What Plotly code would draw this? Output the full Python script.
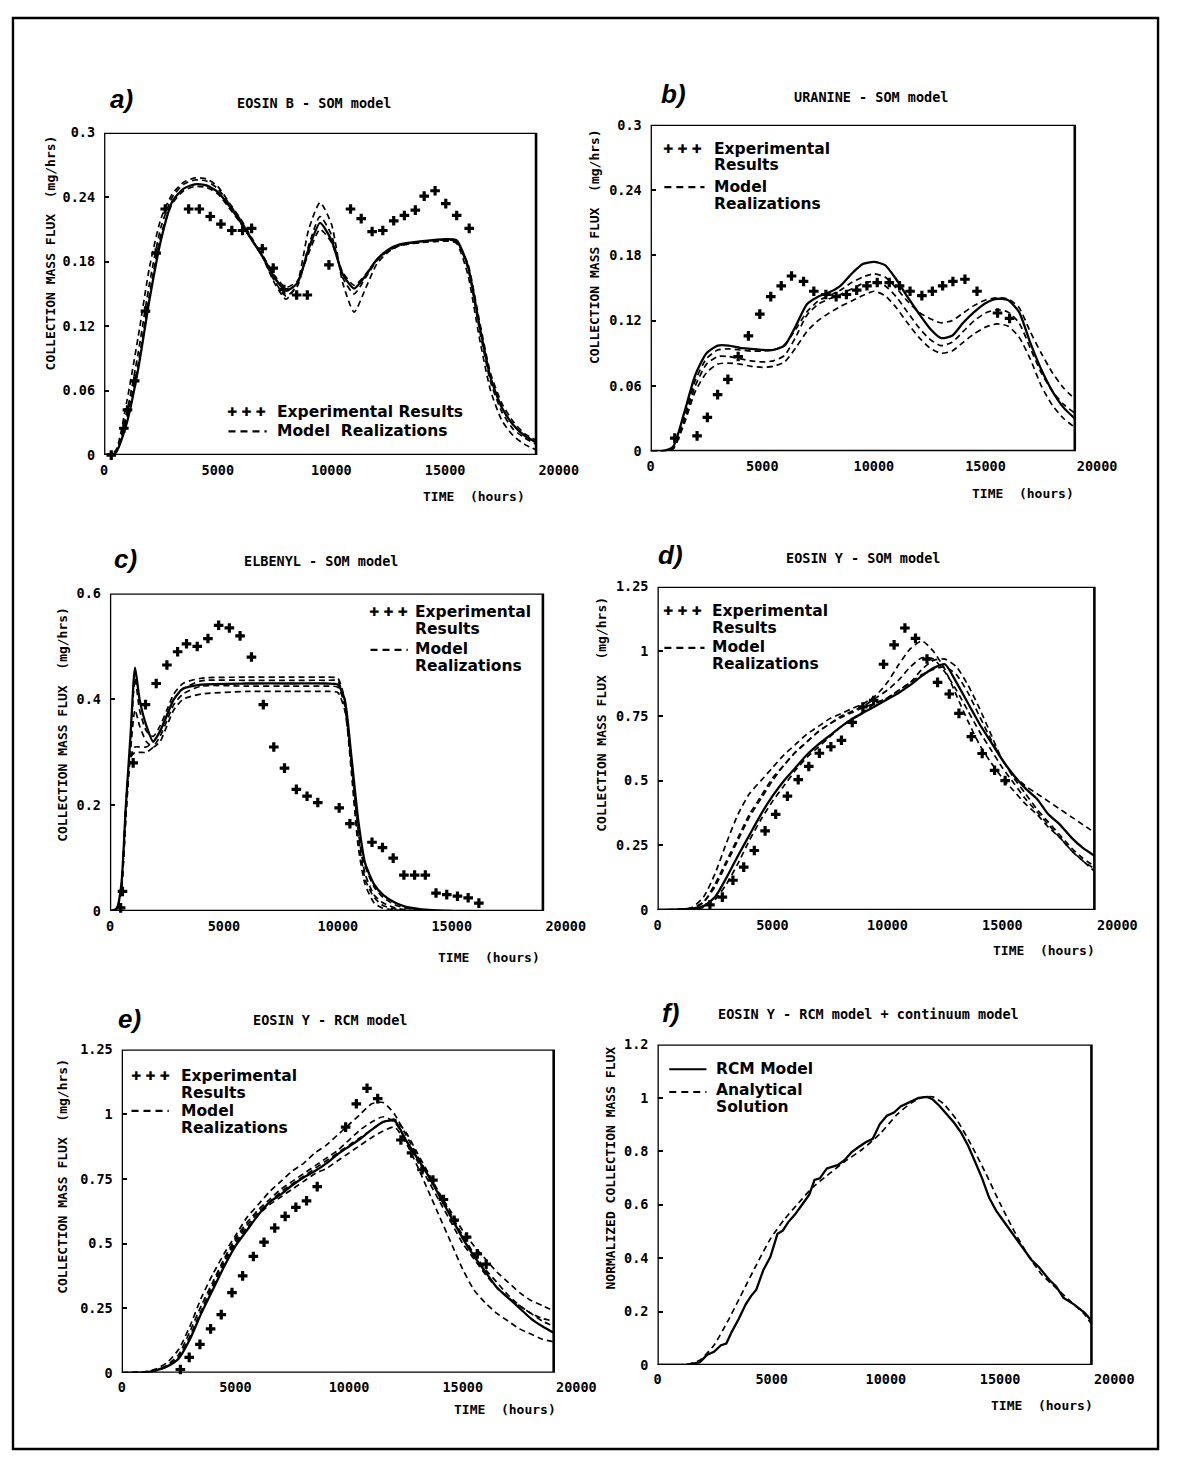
import plotly.graph_objects as go

# page geometry (browser body keeps an 8px margin)
PAGE_W, PAGE_H = 1188, 1466
OFF = 8
FW, FH = PAGE_W - 2 * OFF, PAGE_H - 2 * OFF

X_BOX_END = 19000
X_TICKS = [0, 5000, 10000, 15000, 20000]
X_TICK_TEXT = ["0", "5000", "10000", "15000", "20000"]

# ---------------- panel a : EOSIN B - SOM model ----------------
a_time = [0, 500, 1000, 1500, 2000, 2500, 3000, 3500, 4000, 4500, 5000, 5500, 6000, 6500,
          7000, 7500, 8000, 8500, 9000, 9500, 10000, 10500, 11000, 11500, 12000, 12500,
          13000, 14000, 15000, 15500, 16000, 16500, 17000, 17500, 18000, 18500, 19000]
a_model_solid = [0, 0.002, 0.03, 0.08, 0.145, 0.2, 0.236, 0.248, 0.252, 0.251, 0.245, 0.232,
                 0.217, 0.2, 0.184, 0.165, 0.153, 0.16, 0.192, 0.216, 0.2, 0.168, 0.155, 0.167,
                 0.182, 0.191, 0.196, 0.199, 0.201, 0.2, 0.176, 0.122, 0.072, 0.044, 0.028,
                 0.018, 0.012]
a_model_r1 = [0, 0.004, 0.05, 0.11, 0.175, 0.22, 0.243, 0.254, 0.258, 0.257, 0.25, 0.235,
              0.22, 0.202, 0.183, 0.16, 0.145, 0.16, 0.21, 0.235, 0.215, 0.16, 0.133, 0.155,
              0.178, 0.189, 0.195, 0.198, 0.2, 0.197, 0.168, 0.11, 0.06, 0.032, 0.018, 0.01, 0.005]
a_model_r2 = [0, 0.003, 0.04, 0.095, 0.16, 0.212, 0.24, 0.252, 0.256, 0.255, 0.248, 0.234,
              0.219, 0.201, 0.183, 0.162, 0.148, 0.157, 0.195, 0.222, 0.205, 0.165, 0.15, 0.165,
              0.181, 0.19, 0.195, 0.199, 0.2, 0.199, 0.174, 0.118, 0.068, 0.04, 0.024, 0.016, 0.01]
a_model_r3 = [0, 0.002, 0.035, 0.085, 0.15, 0.205, 0.234, 0.246, 0.25, 0.249, 0.243, 0.23,
              0.216, 0.2, 0.185, 0.167, 0.156, 0.162, 0.188, 0.21, 0.198, 0.17, 0.158, 0.168,
              0.182, 0.19, 0.195, 0.198, 0.199, 0.198, 0.178, 0.126, 0.076, 0.048, 0.031, 0.02, 0.014]
a_exp_time = [316, 870, 1030, 1345, 1820, 2290, 2690, 3720, 4190, 4670, 5140, 5620, 6090, 6490,
              6960, 7440, 7910, 8470, 8940, 9890, 10840, 11310, 11790, 12260, 12740, 13210,
              13690, 14080, 14560, 15030, 15510, 16060]
a_exp_flux = [0.0, 0.025, 0.042, 0.069, 0.134, 0.188, 0.229, 0.229, 0.229, 0.222, 0.215, 0.209,
              0.209, 0.211, 0.192, 0.174, 0.154, 0.149, 0.149, 0.177, 0.229, 0.22, 0.208, 0.209,
              0.218, 0.223, 0.228, 0.241, 0.246, 0.234, 0.223, 0.211]
a_yticks = [0, 0.06, 0.12, 0.18, 0.24, 0.3]
a_ytext = ["0", "0.06", "0.12", "0.18", "0.24", "0.3"]

# ---------------- panel b : URANINE - SOM model ----------------
b_time = [0, 500, 1000, 1500, 2000, 2500, 3000, 3500, 4000, 4500, 5000, 5500, 6000, 6500,
          7000, 7500, 8000, 8500, 9000, 9500, 10000, 10500, 11000, 11500, 12000, 12500, 13000,
          13500, 14000, 14500, 15000, 15500, 16000, 16500, 17000, 17500, 18000, 18500, 19000]
b_model_solid = [0, 0, 0.004, 0.035, 0.07, 0.09, 0.097, 0.097, 0.095, 0.094, 0.093, 0.093,
                 0.097, 0.115, 0.135, 0.142, 0.146, 0.152, 0.163, 0.172, 0.174, 0.171, 0.158,
                 0.142, 0.127, 0.113, 0.104, 0.106, 0.118, 0.128, 0.136, 0.14, 0.139, 0.128,
                 0.1, 0.075, 0.055, 0.04, 0.03]
b_model_r1 = [0, 0, 0.003, 0.03, 0.065, 0.085, 0.093, 0.094, 0.093, 0.092, 0.092, 0.093, 0.098,
              0.112, 0.128, 0.138, 0.143, 0.148, 0.155, 0.16, 0.163, 0.16, 0.15, 0.138, 0.128,
              0.122, 0.118, 0.12, 0.127, 0.134, 0.139, 0.141, 0.14, 0.132, 0.11, 0.09, 0.072,
              0.058, 0.048]
b_model_r2 = [0, 0, 0.002, 0.028, 0.06, 0.08, 0.087, 0.087, 0.085, 0.083, 0.082, 0.083, 0.088,
              0.105, 0.125, 0.135, 0.14, 0.144, 0.149, 0.154, 0.156, 0.152, 0.142, 0.128, 0.114,
              0.103, 0.097, 0.1, 0.11, 0.12, 0.127, 0.13, 0.128, 0.118, 0.095, 0.072, 0.055,
              0.043, 0.035]
b_model_r3 = [0, 0, 0.002, 0.025, 0.055, 0.072, 0.08, 0.081, 0.08, 0.078, 0.077, 0.078, 0.082,
              0.095, 0.11, 0.12, 0.127, 0.133, 0.138, 0.143, 0.147, 0.143, 0.132, 0.118, 0.105,
              0.095, 0.09, 0.092, 0.1, 0.108, 0.114, 0.117, 0.115, 0.105, 0.085, 0.06, 0.042,
              0.03, 0.022]
b_exp_time = [1080, 2080, 2540, 3000, 3460, 3920, 4380, 4890, 5380, 5850, 6310, 6850, 7310,
              7850, 8310, 8770, 9230, 9690, 10150, 10690, 11150, 11620, 12150, 12620, 13080,
              13540, 14080, 14620, 15540, 16080]
b_exp_flux = [0.012, 0.014, 0.031, 0.052, 0.066, 0.087, 0.106, 0.126, 0.142, 0.152, 0.161,
              0.156, 0.147, 0.144, 0.142, 0.144, 0.148, 0.152, 0.155, 0.155, 0.152, 0.147,
              0.143, 0.147, 0.152, 0.156, 0.158, 0.147, 0.127, 0.122]
b_yticks = a_yticks
b_ytext = a_ytext

# ---------------- panel c : ELBENYL - SOM model ----------------
c_time = [0, 300, 500, 700, 900, 1100, 1300, 1600, 1900, 2200, 2500, 2800, 3200, 4000, 6000,
          8000, 9500, 10000, 10300, 10600, 10900, 11200, 11600, 12000, 12500, 13000, 14000, 15000]
c_model_solid = [0, 0.005, 0.05, 0.2, 0.33, 0.46, 0.4, 0.35, 0.32, 0.34, 0.37, 0.4, 0.42,
                 0.428, 0.43, 0.43, 0.43, 0.428, 0.4, 0.29, 0.17, 0.09, 0.05, 0.03, 0.016,
                 0.008, 0.002, 0]
c_model_r1 = [0, 0.004, 0.04, 0.18, 0.32, 0.44, 0.38, 0.34, 0.33, 0.35, 0.38, 0.41, 0.43, 0.44,
              0.442, 0.442, 0.442, 0.44, 0.4, 0.28, 0.15, 0.07, 0.03, 0.015, 0.006, 0.002, 0, 0]
c_model_r2 = [0, 0.004, 0.045, 0.2, 0.29, 0.31, 0.31, 0.31, 0.32, 0.34, 0.37, 0.4, 0.42, 0.435,
              0.436, 0.436, 0.436, 0.435, 0.39, 0.26, 0.12, 0.05, 0.015, 0.005, 0.002, 0, 0, 0]
c_model_r3 = [0, 0.004, 0.04, 0.18, 0.3, 0.38, 0.35, 0.32, 0.31, 0.32, 0.35, 0.38, 0.4, 0.41,
              0.415, 0.415, 0.415, 0.413, 0.38, 0.28, 0.16, 0.085, 0.045, 0.025, 0.012, 0.005,
              0.001, 0]
c_model_r4 = [0, 0.004, 0.045, 0.2, 0.29, 0.3, 0.3, 0.3, 0.31, 0.33, 0.36, 0.39, 0.41, 0.425,
              0.425, 0.425, 0.425, 0.423, 0.39, 0.27, 0.14, 0.06, 0.025, 0.01, 0.004, 0.001, 0, 0]
c_exp_time = [470, 550, 1020, 1560, 2030, 2500, 2970, 3360, 3830, 4300, 4770, 5240, 5710, 6210,
              6730, 7190, 7660, 8180, 8650, 9120, 10060, 10530, 11500, 11960, 12430, 12900,
              13370, 13840, 14310, 14780, 15250, 15720, 16190]
c_exp_flux = [0.006, 0.037, 0.28, 0.39, 0.43, 0.465, 0.49, 0.505, 0.5, 0.515, 0.54, 0.535, 0.52,
              0.48, 0.39, 0.31, 0.27, 0.23, 0.217, 0.205, 0.195, 0.165, 0.13, 0.12, 0.1, 0.068,
              0.068, 0.068, 0.034, 0.031, 0.028, 0.025, 0.015]
c_yticks = [0, 0.2, 0.4, 0.6]
c_ytext = ["0", "0.2", "0.4", "0.6"]

# ---------------- panel d : EOSIN Y - SOM model ----------------
d_time = [0, 1000, 1500, 2000, 2500, 3000, 3500, 4000, 4500, 5000, 5500, 6000, 6500, 7000,
          7500, 8000, 8500, 9000, 9500, 10000, 10500, 11000, 11500, 12000, 12500, 13000, 13500,
          14000, 14500, 15000, 15500, 16000, 16500, 17000, 17500, 18000, 18500, 19000]
d_model_solid = [0, 0.002, 0.005, 0.015, 0.05, 0.125, 0.21, 0.29, 0.37, 0.44, 0.5, 0.55, 0.6,
                 0.64, 0.675, 0.71, 0.74, 0.765, 0.79, 0.815, 0.84, 0.87, 0.905, 0.935, 0.95,
                 0.88, 0.8, 0.72, 0.65, 0.58, 0.52, 0.47, 0.43, 0.37, 0.33, 0.28, 0.24, 0.21]
d_model_r1 = [0, 0.003, 0.01, 0.05, 0.14, 0.26, 0.37, 0.45, 0.5, 0.55, 0.6, 0.64, 0.68, 0.71,
              0.74, 0.76, 0.78, 0.8, 0.83, 0.88, 0.95, 1.01, 1.04, 1.0, 0.93, 0.83, 0.73, 0.64,
              0.57, 0.51, 0.46, 0.41, 0.37, 0.32, 0.28, 0.23, 0.19, 0.16]
d_model_r2 = [0, 0.002, 0.008, 0.03, 0.09, 0.18, 0.27, 0.36, 0.43, 0.5, 0.56, 0.61, 0.65, 0.69,
              0.72, 0.745, 0.765, 0.785, 0.8, 0.82, 0.85, 0.88, 0.93, 0.965, 0.97, 0.94, 0.87,
              0.78, 0.68, 0.58, 0.52, 0.48, 0.45, 0.42, 0.39, 0.36, 0.33, 0.3]
d_model_r3 = [0, 0.002, 0.005, 0.03, 0.1, 0.19, 0.28, 0.37, 0.44, 0.51, 0.56, 0.61, 0.65, 0.69,
              0.72, 0.75, 0.77, 0.79, 0.82, 0.85, 0.89, 0.94, 0.975, 0.97, 0.92, 0.85, 0.77,
              0.69, 0.62, 0.55, 0.49, 0.43, 0.38, 0.33, 0.28, 0.23, 0.19, 0.15]
d_model_r4 = [0, 0.001, 0.004, 0.01, 0.04, 0.1, 0.18, 0.27, 0.35, 0.42, 0.48, 0.54, 0.59, 0.63,
              0.67, 0.71, 0.74, 0.77, 0.8, 0.82, 0.85, 0.88, 0.91, 0.93, 0.94, 0.91, 0.84, 0.75,
              0.66, 0.58, 0.51, 0.45, 0.39, 0.34, 0.29, 0.24, 0.2, 0.17]
d_exp_time = [2280, 2820, 3280, 3750, 4210, 4680, 5140, 5650, 6120, 6580, 7040, 7540, 8000,
              8470, 8930, 9400, 9830, 10290, 10760, 11220, 11720, 12180, 12690, 13110, 13650,
              14120, 14660, 15120]
d_exp_flux = [0.02, 0.05, 0.115, 0.166, 0.23, 0.306, 0.37, 0.44, 0.504, 0.555, 0.606, 0.631,
              0.656, 0.725, 0.785, 0.81, 0.95, 1.025, 1.09, 1.05, 0.97, 0.88, 0.835, 0.76, 0.67,
              0.605, 0.54, 0.5]
d_yticks = [0, 0.25, 0.5, 0.75, 1, 1.25]
d_ytext = ["0", "0.25", "0.5", "0.75", "1", "1.25"]

# ---------------- panel e : EOSIN Y - RCM model ----------------
e_time = d_time
e_model_solid = [0, 0.002, 0.01, 0.025, 0.055, 0.13, 0.23, 0.32, 0.41, 0.49, 0.55, 0.61, 0.66,
                 0.69, 0.725, 0.755, 0.78, 0.81, 0.845, 0.875, 0.905, 0.94, 0.97, 0.975, 0.9,
                 0.83, 0.76, 0.68, 0.6, 0.52, 0.45, 0.39, 0.33, 0.29, 0.25, 0.21, 0.18, 0.155]
e_model_r1 = [0, 0.004, 0.015, 0.04, 0.09, 0.18, 0.29, 0.38, 0.46, 0.53, 0.6, 0.65, 0.7, 0.74,
              0.78, 0.81, 0.85, 0.88, 0.92, 0.96, 1.0, 1.04, 1.045, 1.0, 0.92, 0.84, 0.76, 0.69,
              0.62, 0.55, 0.49, 0.44, 0.39, 0.35, 0.31, 0.28, 0.26, 0.24]
e_model_r2 = [0, 0.003, 0.01, 0.03, 0.07, 0.16, 0.26, 0.35, 0.44, 0.52, 0.58, 0.63, 0.67, 0.71,
              0.74, 0.77, 0.8, 0.83, 0.86, 0.9, 0.94, 0.97, 0.99, 0.97, 0.9, 0.82, 0.74, 0.66,
              0.58, 0.5, 0.44, 0.38, 0.33, 0.29, 0.26, 0.23, 0.21, 0.2]
e_model_r3 = [0, 0.002, 0.008, 0.025, 0.06, 0.14, 0.24, 0.33, 0.42, 0.5, 0.56, 0.61, 0.65, 0.68,
              0.71, 0.74, 0.77, 0.79, 0.82, 0.85, 0.88, 0.91, 0.935, 0.95, 0.89, 0.8, 0.7, 0.6,
              0.5, 0.4, 0.32, 0.27, 0.23, 0.2, 0.17, 0.15, 0.13, 0.12]
e_model_r4 = [0, 0.002, 0.01, 0.025, 0.06, 0.14, 0.24, 0.34, 0.43, 0.51, 0.57, 0.62, 0.66, 0.7,
              0.73, 0.76, 0.79, 0.82, 0.85, 0.88, 0.91, 0.94, 0.97, 0.98, 0.93, 0.85, 0.77, 0.69,
              0.61, 0.53, 0.46, 0.4, 0.35, 0.3, 0.26, 0.23, 0.2, 0.18]
e_exp_time = [2580, 2970, 3440, 3910, 4380, 4850, 5320, 5790, 6260, 6730, 7190, 7660, 8130,
              8600, 9850, 10320, 10790, 11260, 12280, 12750, 13210, 13690, 14150, 14620, 15170,
              15640, 16030]
e_exp_flux = [0.013, 0.06, 0.11, 0.17, 0.225, 0.31, 0.375, 0.45, 0.505, 0.56, 0.605, 0.64,
              0.665, 0.72, 0.95, 1.04, 1.1, 1.06, 0.9, 0.85, 0.785, 0.745, 0.67, 0.59, 0.525,
              0.46, 0.42]
e_yticks = d_yticks
e_ytext = d_ytext

# ---------------- panel f : RCM model + continuum model ----------------
f_rcm_time = [0, 1236, 1854, 2163, 2472, 2781, 3013, 3245, 3554, 3863, 4094, 4326, 4635, 4944,
              5253, 5485, 5717, 6026, 6335, 6644, 6876, 7107, 7416, 7648, 7880, 8189, 8498,
              8807, 9116, 9425, 9734, 10043, 10352, 10661, 11124, 11433, 11819, 12051, 12360,
              12669, 12978, 13287, 13596, 13905, 14214, 14523, 14832, 15141, 15450, 15759,
              16068, 16377, 16686, 17150, 17458, 17768, 18231, 18694, 19000]
f_rcm_flux = [0, 0, 0.01, 0.037, 0.049, 0.074, 0.08, 0.123, 0.172, 0.227, 0.258, 0.282, 0.356,
              0.405, 0.491, 0.503, 0.534, 0.564, 0.601, 0.638, 0.693, 0.699, 0.736, 0.742,
              0.748, 0.767, 0.797, 0.816, 0.834, 0.847, 0.902, 0.933, 0.945, 0.969, 0.988, 1.0,
              1.004, 0.994, 0.969, 0.939, 0.908, 0.871, 0.822, 0.761, 0.699, 0.626, 0.577, 0.54,
              0.503, 0.466, 0.429, 0.393, 0.368, 0.319, 0.294, 0.252, 0.227, 0.196, 0.166]
f_ana_time = [0, 1236, 1854, 2472, 3090, 3708, 4326, 4944, 5562, 6180, 6798, 7416, 8189, 8961,
              9734, 10506, 11124, 11665, 12051, 12514, 13133, 13751, 14369, 14987, 15605, 16222,
              16840, 17458, 18076, 18694, 19000]
f_ana_flux = [0, 0, 0.018, 0.074, 0.166, 0.27, 0.374, 0.472, 0.546, 0.607, 0.665, 0.709, 0.761,
              0.807, 0.865, 0.939, 0.982, 1.004, 1.004, 0.979, 0.914, 0.822, 0.718, 0.607, 0.503,
              0.411, 0.337, 0.288, 0.239, 0.19, 0.153]
f_yticks = [0, 0.2, 0.4, 0.6, 0.8, 1, 1.2]
f_ytext = ["0", "0.2", "0.4", "0.6", "0.8", "1", "1.2"]

Y_TITLE = "COLLECTION MASS FLUX  (mg/hrs)"
X_TITLE = "TIME  (hours)"

SOLID = dict(color="black", width=2.3, dash="solid")
DASHED = dict(color="black", width=1.7, dash="6px,4px")

panels = [
    dict(letter="a)", title="EOSIN B - SOM model", box=(102, 543, 126, 452), ymax=0.3,
         yticks=a_yticks, ytext=a_ytext, ytitle=Y_TITLE,
         series=[(a_time, a_model_solid, SOLID), (a_time, a_model_r1, DASHED),
                 (a_time, a_model_r2, DASHED), (a_time, a_model_r3, DASHED)],
         exp=(a_exp_time, a_exp_flux),
         letter_pos=(120, 92), title_pos=(316, 96), ytitle_pos=(47, 127), xtitle_pos=(480, 494),
         legend=[("plus", 229, 266, 408), ("dash", 229, 268, 428)],
         legend_text=[("Experimental Results", 277, 408), ("Model  Realizations", 277, 428)]),
    dict(letter="b)", title="URANINE - SOM model", box=(660, 1093, 118, 448), ymax=0.3,
         yticks=b_yticks, ytext=b_ytext, ytitle=Y_TITLE,
         series=[(b_time, b_model_solid, SOLID), (b_time, b_model_r1, DASHED),
                 (b_time, b_model_r2, DASHED), (b_time, b_model_r3, DASHED)],
         exp=(b_exp_time, b_exp_flux),
         letter_pos=(683, 87), title_pos=(885, 90), ytitle_pos=(602, 120), xtitle_pos=(1040, 491),
         legend=[("plus", 674, 712, 142), ("dash", 674, 715, 181)],
         legend_text=[("Experimental", 723, 142), ("Results", 723, 159),
                      ("Model", 723, 181), ("Realizations", 723, 198)]),
    dict(letter="c)", title="ELBENYL - SOM model", box=(108, 550, 592, 913), ymax=0.6,
         yticks=c_yticks, ytext=c_ytext, ytitle=Y_TITLE,
         series=[(c_time, c_model_solid, SOLID), (c_time, c_model_r1, DASHED),
                 (c_time, c_model_r2, DASHED), (c_time, c_model_r3, DASHED),
                 (c_time, c_model_r4, DASHED)],
         exp=(c_exp_time, c_exp_flux),
         letter_pos=(124, 557), title_pos=(323, 559), ytitle_pos=(60, 603), xtitle_pos=(495, 960),
         legend=[("plus", 374, 410, 611), ("dash", 374, 412, 649)],
         legend_text=[("Experimental", 417, 611), ("Results", 417, 628),
                      ("Model", 417, 648), ("Realizations", 417, 665)]),
    dict(letter="d)", title="EOSIN Y - SOM model", box=(667, 1113, 585, 912), ymax=1.25,
         yticks=d_yticks, ytext=d_ytext, ytitle=Y_TITLE,
         series=[(d_time, d_model_solid, SOLID), (d_time, d_model_r1, DASHED),
                 (d_time, d_model_r2, DASHED), (d_time, d_model_r3, DASHED),
                 (d_time, d_model_r4, DASHED)],
         exp=(d_exp_time, d_exp_flux),
         letter_pos=(680, 553), title_pos=(877, 556), ytitle_pos=(609, 593), xtitle_pos=(1062, 953),
         legend=[("plus", 674, 712, 610), ("dash", 674, 715, 647)],
         legend_text=[("Experimental", 721, 610), ("Results", 721, 627),
                      ("Model", 721, 646), ("Realizations", 721, 663)]),
    dict(letter="e)", title="EOSIN Y - RCM model", box=(120, 561, 1053, 1380), ymax=1.25,
         yticks=e_yticks, ytext=e_ytext, ytitle=Y_TITLE,
         series=[(e_time, e_model_solid, SOLID), (e_time, e_model_r1, DASHED),
                 (e_time, e_model_r2, DASHED), (e_time, e_model_r3, DASHED),
                 (e_time, e_model_r4, DASHED)],
         exp=(e_exp_time, e_exp_flux),
         letter_pos=(128, 1022), title_pos=(333, 1023), ytitle_pos=(60, 1060), xtitle_pos=(511, 1417),
         legend=[("plus", 130, 168, 1080), ("dash", 130, 168, 1115)],
         legend_text=[("Experimental", 179, 1080), ("Results", 179, 1097),
                      ("Model", 179, 1115), ("Realizations", 179, 1132)]),
    dict(letter="f)", title="EOSIN Y - RCM model + continuum model", box=(667, 1110, 1048, 1372),
         ymax=1.2, yticks=f_yticks, ytext=f_ytext, ytitle="NORMALIZED COLLECTION MASS FLUX",
         series=[(f_rcm_time, f_rcm_flux, SOLID), (f_ana_time, f_ana_flux, DASHED)],
         exp=None,
         letter_pos=(680, 1016), title_pos=(882, 1017), ytitle_pos=(619, 1048), xtitle_pos=(1060, 1413),
         legend=[("solid", 679, 717, 1073), ("dash", 679, 717, 1096)],
         legend_text=[("RCM Model", 725, 1073), ("Analytical", 725, 1094), ("Solution", 725, 1111)]),
]


def px(x):
    return (x - OFF) / FW


def py(y):
    return 1 - (y - OFF) / FH


MONO = "DejaVu Sans Mono"
TICK_FONT = dict(family=MONO, size=13.5, color="black", weight="bold")
TITLE_FONT = dict(family=MONO, size=13.5, color="black", weight="bold")
AXT_FONT = dict(family=MONO, size=13, color="black", weight="bold")
LEGEND_FONT = dict(family="DejaVu Sans", size=15.5, color="black", weight="bold")
PLUS_FONT = dict(family="DejaVu Sans", size=12, color="black", weight="bold")
LETTER_FONT = dict(family="Liberation Sans", size=26, color="black", weight="bold", style="italic")

fig = go.Figure()
layout = dict(width=FW, height=FH, margin=dict(l=0, r=0, t=0, b=0),
              paper_bgcolor="white", plot_bgcolor="white", showlegend=False)
shapes = []
annotations = []

for i, p in enumerate(panels, start=1):
    xr = "x" if i == 1 else f"x{i}"
    yr = "y" if i == 1 else f"y{i}"
    xkey = "xaxis" if i == 1 else f"xaxis{i}"
    ykey = "yaxis" if i == 1 else f"yaxis{i}"
    L, R, T, B = p["box"]
    x_end_px = L + (R - L) * X_TICKS[-1] / X_BOX_END

    for t, ys, st in p["series"]:
        shape = "linear" if (i == 6 and st is SOLID) else "spline"
        fig.add_trace(go.Scatter(x=t, y=ys, mode="lines", xaxis=xr, yaxis=yr,
                                 line=dict(color=st["color"], width=st["width"], dash=st["dash"],
                                           shape=shape, smoothing=0.6),
                                 hoverinfo="skip"))
    if p["exp"] is not None:
        fig.add_trace(go.Scatter(x=p["exp"][0], y=p["exp"][1], mode="markers", xaxis=xr, yaxis=yr,
                                 marker=dict(symbol="cross", size=8, color="black"),
                                 cliponaxis=False, hoverinfo="skip"))

    layout[xkey] = dict(domain=[px(L), px(x_end_px)], range=[0, X_TICKS[-1]], anchor=yr,
                        tickmode="array", tickvals=X_TICKS, ticktext=X_TICK_TEXT,
                        showgrid=False, zeroline=False, showline=False, ticks="",
                        tickfont=TICK_FONT, ticklabelstandoff=5)
    layout[ykey] = dict(domain=[py(B), py(T)], range=[0, p["ymax"]], anchor=xr,
                        tickmode="array", tickvals=p["yticks"], ticktext=p["ytext"],
                        showgrid=False, zeroline=False, showline=False,
                        ticks="inside", ticklen=5, tickwidth=2, tickcolor="black",
                        tickfont=TICK_FONT, ticklabelstandoff=8)

    shapes.append(dict(type="rect", xref=xr, yref=yr, x0=0, x1=X_BOX_END, y0=0, y1=p["ymax"],
                       line=dict(color="black", width=2.6)))

    lx, ly = p["letter_pos"]
    annotations.append(dict(text=p["letter"], x=px(lx), y=py(ly), xref="paper", yref="paper",
                            showarrow=False, font=LETTER_FONT, xanchor="center", yanchor="middle"))
    tx, ty = p["title_pos"]
    annotations.append(dict(text=p["title"], x=px(tx), y=py(ty), xref="paper", yref="paper",
                            showarrow=False, font=TITLE_FONT, xanchor="center", yanchor="middle"))
    yx, ytop = p["ytitle_pos"]
    annotations.append(dict(text=p["ytitle"], x=px(yx), y=py(ytop), xref="paper", yref="paper",
                            showarrow=False, font=AXT_FONT, textangle=-90,
                            xanchor="center", yanchor="top"))
    xx, xy = p["xtitle_pos"]
    annotations.append(dict(text=X_TITLE, x=px(xx), y=py(xy), xref="paper", yref="paper",
                            showarrow=False, font=AXT_FONT, xanchor="center", yanchor="middle"))

    for kind, x0, x1, yv in p["legend"]:
        if kind == "plus":
            annotations.append(dict(text="\u271a \u271a \u271a", x=px((x0 + x1) / 2), y=py(yv),
                                    xref="paper", yref="paper", showarrow=False, font=PLUS_FONT,
                                    xanchor="center", yanchor="middle"))
        else:
            shapes.append(dict(type="line", xref="paper", yref="paper", x0=px(x0), x1=px(x1),
                               y0=py(yv), y1=py(yv),
                               line=dict(color="black", width=2.2,
                                         dash="solid" if kind == "solid" else "7px,5px")))
    for txt, x0, yv in p["legend_text"]:
        annotations.append(dict(text=txt, x=px(x0), y=py(yv), xref="paper", yref="paper",
                                showarrow=False, font=LEGEND_FONT, xanchor="left",
                                yanchor="middle"))

# outer frame
shapes.append(dict(type="rect", xref="paper", yref="paper", x0=px(9), x1=px(1178),
                   y0=py(1457), y1=py(10), line=dict(color="black", width=2.4)))

layout["shapes"] = shapes
layout["annotations"] = annotations
fig.update_layout(**layout)
fig.write_html("out.html")
